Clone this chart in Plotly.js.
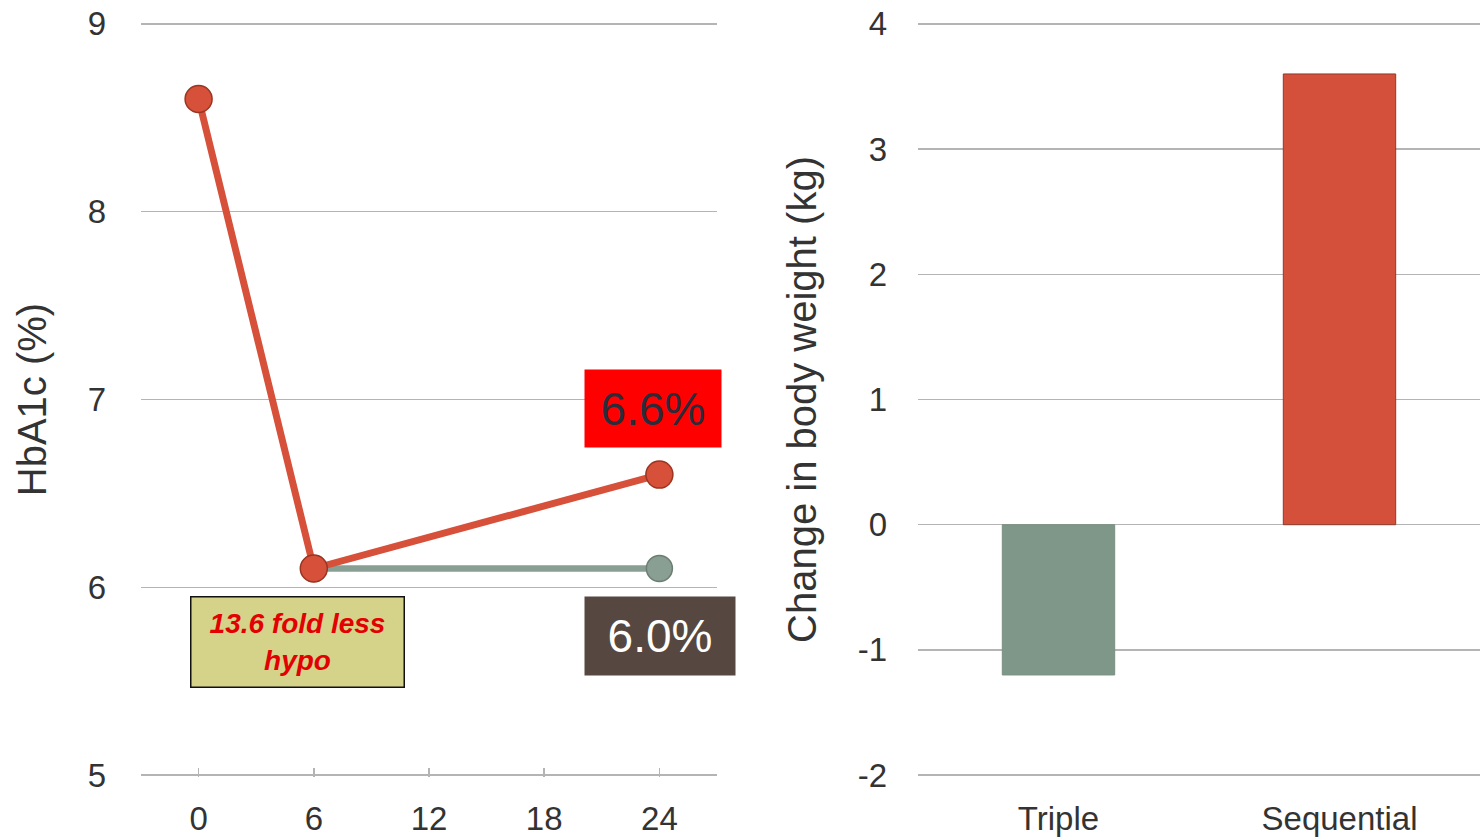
<!DOCTYPE html>
<html>
<head>
<meta charset="utf-8">
<script src="https://cdn.plot.ly/plotly-3.0.1.min.js"></script>
<style>
  html, body { margin: 0; padding: 0; background: #ffffff; }
  #chart { width: 1480px; height: 838px; }
</style>
</head>
<body>
<div id="chart"></div>
<script>
// HbA1c over time (months) for the two treatment arms
const months = [0, 6, 24];
const sequentialHbA1c = [8.6, 6.1, 6.6];
const tripleMonths = [6, 24];
const tripleHbA1c = [6.1, 6.1];
const tripleEndLabel = '6.0%';

// Axis ticks
const monthTicks = [0, 6, 12, 18, 24];
const hba1cTicks = [5, 6, 7, 8, 9];
const weightTicks = [-2, -1, 0, 1, 2, 3, 4];

// Body weight change (kg) by arm
const arms = ['Triple', 'Sequential'];
const weightChange = [-1.2, 3.6];

const RED = '#d6503a';
const RED_EDGE = '#9a3522';
const GREY = '#8a9f93';
const GREY_EDGE = '#6b7d72';
const GRID = '#b4b4b4';
const TEXT = '#333333';
const FONT = 'Liberation Sans, Arial, sans-serif';

const traces = [
  {
    type: 'scatter', mode: 'lines+markers',
    x: tripleMonths, y: tripleHbA1c,
    xaxis: 'x', yaxis: 'y',
    line: { color: GREY, width: 6.5 },
    marker: { size: 26, color: GREY, line: { color: GREY_EDGE, width: 1.5 } },
    hoverinfo: 'x+y', showlegend: false
  },
  {
    type: 'scatter', mode: 'lines+markers',
    x: months, y: sequentialHbA1c,
    xaxis: 'x', yaxis: 'y',
    line: { color: RED, width: 7 },
    marker: { size: 27, color: RED, line: { color: RED_EDGE, width: 1.5 } },
    hoverinfo: 'x+y', showlegend: false
  },
  {
    type: 'bar',
    x: arms, y: weightChange,
    xaxis: 'x2', yaxis: 'y2',
    width: 0.4,
    marker: {
      color: ['#7f9788', '#d5503a'],
      line: { color: ['#7a8f82', '#8c3a2a'], width: 1 }
    },
    hoverinfo: 'x+y', showlegend: false
  }
];

const tickFont = { family: FONT, size: 33, color: TEXT };
const titleFont = { family: FONT, size: 40, color: TEXT };

const layout = {
  width: 1480, height: 838,
  margin: { l: 0, r: 0, t: 22, b: 61 },
  paper_bgcolor: '#ffffff', plot_bgcolor: '#ffffff',
  showlegend: false,
  xaxis: {
    domain: [141 / 1480, 717 / 1480],
    range: [-3, 27],
    tickvals: monthTicks.concat([27]),
    ticktext: monthTicks.map(String).concat(['']),
    ticks: 'inside', ticklen: 9, tickwidth: 1.5, tickcolor: GRID,
    showline: false,
    showgrid: false, zeroline: false,
    tickfont: tickFont, ticklabelstandoff: 19
  },
  yaxis: {
    domain: [0, 1],
    range: [4.99, 9.01],
    tickvals: hba1cTicks,
    ticktext: hba1cTicks.map(String),
    showgrid: true, gridcolor: GRID, gridwidth: 1.5,
    zeroline: false, showline: false, ticks: '',
    tickfont: tickFont, ticklabelstandoff: 34,
    title: { text: 'HbA1c (%)', font: titleFont, standoff: 28 }
  },
  xaxis2: {
    domain: [918 / 1480, 1],
    range: [-0.5, 1.5],
    type: 'category',
    showline: false, showgrid: false, zeroline: false, ticks: '',
    tickfont: tickFont, ticklabelstandoff: 19,
    anchor: 'y2'
  },
  yaxis2: {
    domain: [0, 1],
    range: [-2.015, 4.015],
    tickvals: weightTicks,
    ticktext: weightTicks.map(String),
    anchor: 'x2',
    showgrid: true, gridcolor: GRID, gridwidth: 1.5,
    zeroline: false, showline: false, ticks: '',
    tickfont: tickFont, ticklabelstandoff: 30,
    title: { text: 'Change in body weight (kg)', font: titleFont, standoff: 28 }
  },
  annotations: [
    {
      xref: 'x', yref: 'y', x: 23.67, y: 6.952,
      xanchor: 'center', yanchor: 'middle', showarrow: false,
      text: sequentialHbA1c[sequentialHbA1c.length - 1].toFixed(1) + '%',
      font: { family: FONT, size: 46, color: '#2b2b3a' },
      bgcolor: '#ff0000', width: 136, height: 77, borderpad: 0
    },
    {
      xref: 'x', yref: 'y', x: 24.03, y: 5.74,
      xanchor: 'center', yanchor: 'middle', showarrow: false,
      text: tripleEndLabel,
      font: { family: FONT, size: 46, color: '#ffffff' },
      bgcolor: '#564840', width: 150, height: 78, borderpad: 0
    },
    {
      xref: 'x', yref: 'y', x: 5.15, y: 5.708,
      xanchor: 'center', yanchor: 'middle', showarrow: false,
      text: '<b><i>13.6 fold less<br>hypo</i></b>',
      font: { family: FONT, size: 28, color: '#e30000' },
      bgcolor: '#d5d38a', bordercolor: '#111111', borderwidth: 1.5,
      width: 212, height: 89, borderpad: 0
    }
  ]
};

Plotly.newPlot('chart', traces, layout, { displayModeBar: false, staticPlot: true });
</script>
</body>
</html>
